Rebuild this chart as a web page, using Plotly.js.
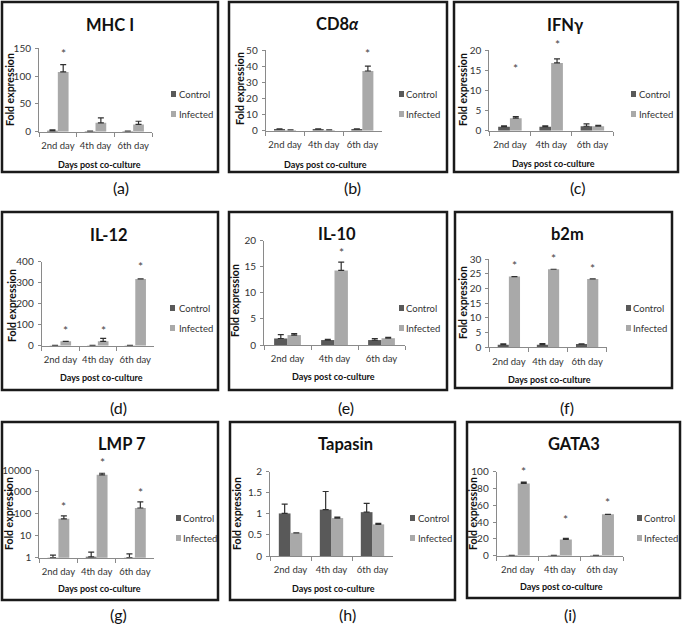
<!DOCTYPE html>
<html>
<head>
<meta charset="utf-8">
<script src="https://cdn.plot.ly/plotly-3.0.1.min.js"></script>
<style>html,body{margin:0;padding:0;background:#fff;}#chart{width:685px;height:627px;}</style>
</head>
<body>
<div id="chart"></div>
<script>
// ---------- data ----------
const days = ['2nd day', '4th day', '6th day'];
const seriesNames = ['Control', 'Infected'];

// (a) MHC I
const mhcTitle = 'MHC I';
const mhcControl = [1.5, 1, 1];
const mhcControlErr = [2, 0.3, 0.3];
const mhcInfected = [107.5, 16, 13];
const mhcInfectedErr = [13, 8.8, 5.8];
const mhcStar = [144, null, null];

// (b) CD8α
const cd8Title = 'CD8<i>α</i>';
const cd8Control = [1, 1, 1];
const cd8ControlErr = [0.1, 0.1, 0.1];
const cd8Infected = [0.5, 0.5, 37];
const cd8InfectedErr = [0.05, 0.05, 3];
const cd8Star = [null, null, 49];

// (c) IFNγ
const ifnTitle = 'IFNγ';
const ifnControl = [1, 1, 1.1];
const ifnControlErr = [0.2, 0.2, 0.6];
const ifnInfected = [3.1, 16.8, 1.1];
const ifnInfectedErr = [0.4, 1, 0.2];
const ifnStar = [16, 21.8, null];

// (d) IL-12
const il12Title = 'IL-12';
const il12Control = [1, 1, 1];
const il12ControlErr = [0.5, 0.5, 0.5];
const il12Infected = [21, 21, 318];
const il12InfectedErr = [0, 14, 0];
const il12Star = [83, 83, 388];

// (e) IL-10
const il10Title = 'IL-10';
const il10Control = [1.25, 0.95, 0.95];
const il10ControlErr = [0.75, 0.15, 0.3];
const il10Infected = [1.9, 14.3, 1.3];
const il10InfectedErr = [0.3, 1.6, 0.15];
const il10Star = [null, 18.1, null];

// (f) b2m
const b2mTitle = 'b2m';
const b2mControl = [0.9, 0.9, 1.1];
const b2mControlErr = [0.3, 0.4, 0.05];
const b2mInfected = [24.1, 26.6, 23.3];
const b2mInfectedErr = [0, 0, 0];
const b2mStar = [28.6, 31.1, 27.5];

// (g) LMP 7 (log scale)
const lmpTitle = 'LMP 7';
const lmpControl = [1.0, 1.1, 1.0];
const lmpControlErr = [0.3, 0.7, 0.5];
const lmpInfected = [59, 6000, 185];
const lmpInfectedErr = [21, 1100, 165];
const lmpStar = [280, 27000, 1130];
const lmpTicks = [1, 10, 100, 1000, 10000];

// (h) Tapasin
const tapTitle = 'Tapasin';
const tapControl = [1.01, 1.1, 1.04];
const tapControlErr = [0.22, 0.43, 0.21];
const tapInfected = [0.55, 0.9, 0.75];
const tapInfectedErr = [0, 0.025, 0.025];
const tapStar = [null, null, null];

// (i) GATA3
const gataTitle = 'GATA3';
const gataControl = [0.5, 0.5, 0.5];
const gataControlErr = [0, 0, 0];
const gataInfected = [86.1, 19.4, 49.2];
const gataInfectedErr = [1.6, 1.2, 0];
const gataStar = [102.8, 46, 66];

const panelLabels = ['(a)', '(b)', '(c)', '(d)', '(e)', '(f)', '(g)', '(h)', '(i)'];

// ---------- panel definitions (data + layout geometry in px) ----------
const panels = [
  {title: mhcTitle, c: mhcControl, ce: mhcControlErr, i: mhcInfected, ie: mhcInfectedErr, star: mhcStar, ymax: 150, dtick: 50,
   box: [2, 2, 218, 172], ax: [39, 152, 48.3, 131.7], tt: [110, 25], xt: [99, 164], yt: [10, 90], lg: [171, 178, 94, 114], lab: [121, 188]},
  {title: cd8Title, c: cd8Control, ce: cd8ControlErr, i: cd8Infected, ie: cd8InfectedErr, star: cd8Star, ymax: 50, dtick: 10,
   box: [229, 2, 447, 172], ax: [265.7, 381.7, 50, 130.7], tt: [337, 24], xt: [325, 164], yt: [240, 89], lg: [399, 405, 94, 114], lab: [353, 188]},
  {title: ifnTitle, c: ifnControl, ce: ifnControlErr, i: ifnInfected, ie: ifnInfectedErr, star: ifnStar, ymax: 20, dtick: 5,
   box: [454, 2, 678, 172], ax: [489.3, 613, 50, 130.7], tt: [565, 25], xt: [553, 163], yt: [463, 90], lg: [631, 638, 94, 114], lab: [577, 188]},
  {title: il12Title, c: il12Control, ce: il12ControlErr, i: il12Infected, ie: il12InfectedErr, star: il12Star, ymax: 400, dtick: 100,
   box: [2, 212, 218, 390], ax: [41.7, 154, 261.7, 345.7], tt: [109, 235], xt: [101, 377.7], yt: [12, 306], lg: [170, 178, 308, 328], lab: [118, 408]},
  {title: il10Title, c: il10Control, ce: il10ControlErr, i: il10Infected, ie: il10InfectedErr, star: il10Star, ymax: 20, dtick: 5,
   box: [229, 212, 447, 390], ax: [264, 405, 240.7, 345], tt: [337, 234], xt: [333, 376.7], yt: [235, 301], lg: [399, 405, 308, 328], lab: [346, 408]},
  {title: b2mTitle, c: b2mControl, ce: b2mControlErr, i: b2mInfected, ie: b2mInfectedErr, star: b2mStar, ymax: 30, dtick: 5,
   box: [455, 212, 672, 388], ax: [489.3, 606.7, 259.3, 347.3], tt: [567, 234], xt: [549, 379], yt: [463, 303], lg: [626, 632, 308, 328], lab: [567, 408]},
  {title: lmpTitle, c: lmpControl, ce: lmpControlErr, i: lmpInfected, ie: lmpInfectedErr, star: lmpStar, log: true, ticks: lmpTicks,
   box: [2, 422, 218, 600], ax: [39.3, 154, 470, 557.7], tt: [122, 444], xt: [100, 588], yt: [9, 514], lg: [176, 182, 518, 538], lab: [118, 614]},
  {title: tapTitle, c: tapControl, ce: tapControlErr, i: tapInfected, ie: tapInfectedErr, star: tapStar, ymax: 2, dtick: 0.5,
   box: [230, 422, 455, 600], ax: [270, 393, 471.7, 556], tt: [345, 444], xt: [333, 588], yt: [237, 514], lg: [410, 417, 518, 538], lab: [347, 614]},
  {title: gataTitle, c: gataControl, ce: gataControlErr, i: gataInfected, ie: gataInfectedErr, star: gataStar, ymax: 100, dtick: 20,
   box: [467, 422, 680, 598], ax: [496.7, 623, 471.7, 555.7], tt: [574, 444], xt: [561, 586.7], yt: [473, 513], lg: [637, 643, 518, 538], lab: [570, 614]}
];

// ---------- styling ----------
const W = 685, H = 627;
const px = v => v / W;
const py = v => 1 - v / H;
const FONT = 'Lato, "Open Sans", sans-serif';
const CTRL = '#595959';
const INF = '#a9a9a9';
const AXC = '#8a8a8a';
const TXT = '#333333';
const BARGAP = 0.43;

const data = [];
const layout = {
  width: W, height: H,
  margin: {l: 0, r: 0, t: 0, b: 0},
  paper_bgcolor: '#ffffff', plot_bgcolor: 'rgba(0,0,0,0)',
  showlegend: false,
  barmode: 'group', bargap: BARGAP, bargroupgap: 0,
  annotations: [], shapes: []
};

panels.forEach((p, k) => {
  const n = k + 1;
  const xa = 'x' + (n === 1 ? '' : n), ya = 'y' + (n === 1 ? '' : n);
  const xk = 'xaxis' + (n === 1 ? '' : n), yk = 'yaxis' + (n === 1 ? '' : n);
  const errStyle = {type: 'data', symmetric: false, visible: true, thickness: 1.2, width: 3, color: '#303030'};

  data.push({
    type: 'bar', name: seriesNames[0], x: days, y: p.c, xaxis: xa, yaxis: ya,
    marker: {color: CTRL}, error_y: Object.assign({array: p.ce, arrayminus: [0, 0, 0]}, errStyle),
    hoverinfo: 'name+x+y'
  });
  data.push({
    type: 'bar', name: seriesNames[1], x: days, y: p.i, xaxis: xa, yaxis: ya,
    marker: {color: INF}, error_y: Object.assign({array: p.ie, arrayminus: [0, 0, 0]}, errStyle),
    hoverinfo: 'name+x+y'
  });

  layout[xk] = {
    domain: [px(p.ax[0]), px(p.ax[1])], anchor: ya, type: 'category',
    showline: true, linecolor: AXC, linewidth: 1,
    ticks: 'outside', tickson: 'boundaries', ticklen: 4, tickcolor: AXC, tickangle: 0,
    ticklabelstandoff: 5,
    showgrid: false, zeroline: false, fixedrange: true,
    tickfont: {family: FONT, size: 9.5, color: TXT}
  };
  const yax = {
    domain: [py(p.ax[3]), py(p.ax[2])], anchor: xa,
    showline: true, linecolor: AXC, linewidth: 1,
    ticks: 'outside', ticklen: 3, tickcolor: AXC,
    ticklabelstandoff: 2,
    showgrid: false, zeroline: false, fixedrange: true,
    tickfont: {family: FONT, size: 10, color: TXT}
  };
  if (p.log) {
    yax.type = 'log';
    yax.range = [Math.log10(p.ticks[0]), Math.log10(p.ticks[p.ticks.length - 1])];
    yax.tickvals = p.ticks;
    yax.ticktext = p.ticks.map(String);
  } else {
    yax.range = [0, p.ymax];
    yax.dtick = p.dtick;
    yax.tick0 = 0;
  }
  layout[yk] = yax;

  // panel border
  layout.shapes.push({type: 'rect', xref: 'paper', yref: 'paper',
    x0: px(p.box[0]), x1: px(p.box[2]), y0: py(p.box[3]), y1: py(p.box[1]),
    line: {color: '#1a1a1a', width: 2.5}, fillcolor: 'rgba(0,0,0,0)', layer: 'above'});

  // chart title
  layout.annotations.push({xref: 'paper', yref: 'paper', x: px(p.tt[0]), y: py(p.tt[1]),
    xanchor: 'center', yanchor: 'middle', showarrow: false, text: '<b>' + p.title + '</b>',
    font: {family: FONT, size: 16.5, color: '#111'}});
  // x axis title
  layout.annotations.push({xref: 'paper', yref: 'paper', x: px(p.xt[0]), y: py(p.xt[1]),
    xanchor: 'center', yanchor: 'middle', showarrow: false, text: '<b>Days post co-culture</b>',
    font: {family: FONT, size: 9, color: '#111'}});
  // y axis title
  layout.annotations.push({xref: 'paper', yref: 'paper', x: px(p.yt[0]), y: py(p.yt[1]),
    xanchor: 'center', yanchor: 'middle', showarrow: false, textangle: -90, text: '<b>Fold expression</b>',
    font: {family: FONT, size: 10.5, color: '#111'}});
  // legend (swatch + label)
  [p.lg[2], p.lg[3]].forEach((ly, s) => {
    layout.shapes.push({type: 'rect', xref: 'paper', yref: 'paper',
      x0: px(p.lg[0]), x1: px(p.lg[0] + 5), y0: py(ly + 3), y1: py(ly - 3),
      line: {width: 0}, fillcolor: s === 0 ? CTRL : INF});
    layout.annotations.push({xref: 'paper', yref: 'paper', x: px(p.lg[1] - 1), y: py(ly),
      xanchor: 'left', yanchor: 'middle', showarrow: false, text: seriesNames[s],
      font: {family: FONT, size: 9.5, color: TXT}});
  });
  // significance asterisks above infected bars (y in axis-domain fraction so they may sit above the range)
  const off = (1 - BARGAP) / 4;
  p.star.forEach((sv, j) => {
    if (sv === null) return;
    const frac = p.log
      ? (Math.log10(sv) - yax.range[0]) / (yax.range[1] - yax.range[0])
      : sv / p.ymax;
    layout.annotations.push({xref: xa, yref: ya + ' domain', x: j + off, y: frac,
      xanchor: 'center', yanchor: 'middle', showarrow: false, text: '*', yshift: -2,
      font: {family: FONT, size: 12, color: '#444'}});
  });
  // panel label
  layout.annotations.push({xref: 'paper', yref: 'paper', x: px(p.lab[0]), y: py(p.lab[1]),
    xanchor: 'center', yanchor: 'middle', showarrow: false, text: panelLabels[k],
    font: {family: FONT, size: 16, color: '#111'}});
});

Plotly.newPlot('chart', data, layout, {displayModeBar: false, staticPlot: true});
</script>
</body>
</html>
